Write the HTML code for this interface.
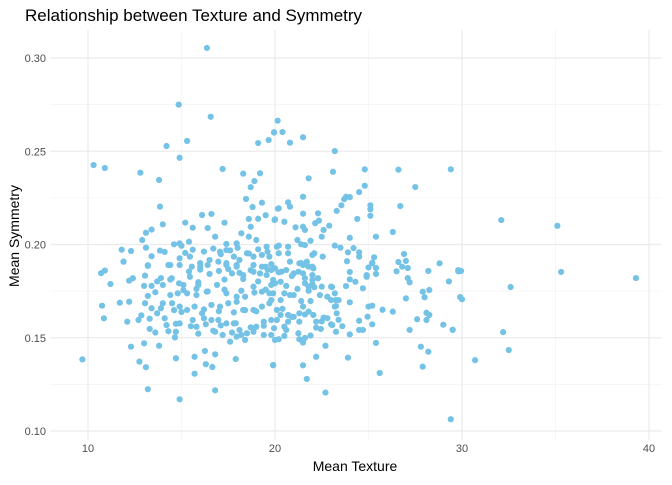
<!DOCTYPE html>
<html><head><meta charset="utf-8"><style>
body{margin:0;background:#fff;font-family:"Liberation Sans",sans-serif}
svg text{font-family:"Liberation Sans",sans-serif}
</style></head><body>
<svg id="chart" width="672" height="480">
<rect width="672" height="480" fill="#fff"/>
<g id="grid"></g>
<g id="points"></g>
<g id="axes"></g>
<text x="25" y="21" font-size="17" fill="#000">Relationship between Texture and Symmetry</text>
<text x="355" y="471" font-size="14" text-anchor="middle" fill="#000">Mean Texture</text>
<text transform="translate(19,236) rotate(-90)" font-size="14" text-anchor="middle" fill="#000">Mean Symmetry</text>
</svg>
<script>
const xTicks=[10,20,30,40];
const xMinor=[15,25,35];
const yTicks=[0.10,0.15,0.20,0.25,0.30];
const yMinor=[0.125,0.175,0.225,0.275];
const texture=[16.36,14.85,16.56,20.14,19.95,19.66,19.1,14.2,15.3,14.9,10.3,10.9,12.8,17.2,13.8,18.3,19.2,18.9,18.7,18.45,13.85,18.8,19.3,20.16,16.1,16.6,15.2,15.6,14.0,13.4,13.1,12.9,16.4,16.8,17.3,11.8,12.3,11.9,13.1,13.4,13.85,14.1,13.2,14.6,14.9,15.4,15.0,
9.7,12.3,13.0,13.8,12.75,13.1,13.2,14.9,16.8,15.7,14.7,16.3,16.65,16.8,17.9,19.9,15.7,16.25,14.65,10.75,10.85,11.7,12.2,12.1,13.3,11.2,10.7,10.9,12.2,12.4,11.9,13.2,13.05,13.0,13.4,13.2,13.6,13.05,13.4,12.7,12.85,13.3,13.9,14.0,
19.95,20.4,20.8,21.5,23.2,23.1,24.8,26.6,29.4,21.8,24.8,27.5,24.5,21.5,23.8,24.0,23.7,23.55,23.3,25.1,25.1,25.1,26.7,24.4,20.7,20.2,20.8,20.0,20.5,21.5,22.3,22.35,22.15,22.9,22.6,22.5,24.0,25.4,26.3,23.2,23.5,24.2,23.9,24.5,24.5,25.3,25.2,23.85,26.9,26.6,27.0,28.8,29.8,21.1,21.5,21.6,21.2,21.4,21.6,21.9,20.2,20.2,20.7,20.7,22.0,22.1,22.55,21.4,21.7,22.0,
29.8,29.3,30.0,27.9,28.25,28.0,27.0,28.2,26.8,27.1,27.1,27.2,26.5,28.1,28.25,28.1,27.6,27.2,29.0,29.5,27.8,28.2,27.9,29.4,25.6,25.4,23.9,22.7,22.2,21.5,21.7,22.7,19.9,26.3,25.75,25.2,24.95,25.0,25.2,24.5,24.5,24.7,24.0,24.0,24.7,24.3,24.0,23.8,24.0,24.9,24.9,25.4,25.0,25.4,25.2,23.05,23.2,23.25,23.2,23.3,23.06,23.26,
22.4,22.8,21.9,21.4,21.5,21.8,22.05,21.3,21.3,20.7,20.7,20.5,20.3,20.1,19.95,19.8,20.2,20.5,21.25,21.3,21.5,21.6,22.2,22.2,22.45,22.5,23.0,23.0,23.4,23.26,23.0,22.5,22.1,21.8,21.8,22.0,21.6,22.3,21.6,22.0,21.5,21.25,21.0,20.9,20.6,20.2,19.8,20.0,19.8,20.3,20.5,20.8,21.0,19.9,19.8,20.3,21.3,21.5,21.8,22.05,21.7,20.8,20.0,19.8,20.35,
14.48,14.87,15.1,15.45,15.9,14.3,14.9,15.55,16.0,16.4,16.97,17.4,17.7,17.95,18.3,18.85,19.3,19.55,19.9,19.7,19.3,18.85,18.4,17.95,17.4,16.9,16.35,15.8,15.3,14.8,14.4,14.0,14.5,14.9,15.3,15.7,16.1,16.6,17.06,17.5,17.95,18.3,18.85,19.3,19.7,20.1,19.8,19.4,19.0,18.85,18.4,17.95,17.6,17.2,16.8,16.6,16.97,17.4,17.8,16.2,15.8,15.6,14.9,14.7,13.9,14.1,13.7,20.0,19.4,18.5,18.1,
17.4,17.8,18.1,18.5,18.85,19.3,19.7,20.1,17.95,18.6,19.0,19.55,17.06,16.5,16.0,15.45,14.9,14.4,17.95,18.85,19.5,17.4,18.2,19.5,19.1,18.6,18.7,19.98,17.4,
32.1,35.1,35.3,39.3,32.6,29.95,32.2,32.5,30.7,29.9,29.5,
15.2,15.6,16.2,16.7,17.1,17.6,18.0,18.6,19.1,19.6,15.4,16.0,16.5,17.0,17.5,18.1,18.7,19.2,19.6,20.6,21.2,22.0,15.1,15.8,16.4,17.3,18.2,18.9,19.5,14.6,15.0,16.2,17.0,17.8,18.4,19.0,20.4,21.0,22.6,23.4,14.2,14.7,15.5,16.3,17.1,17.9,18.7,19.4,20.9,21.6,22.8,13.6,14.3,15.9,16.7,17.7,18.2,20.6,21.9,23.6,13.7,14.4,15.9,17.3,18.3,19.1];
const symmetry=[0.3054,0.275,0.2685,0.2664,0.260,0.256,0.2544,0.2528,0.2555,0.2465,0.2426,0.241,0.2385,0.2405,0.2346,0.238,0.2382,0.234,0.2307,0.2244,0.2203,0.2201,0.2224,0.2192,0.2158,0.2164,0.2117,0.209,0.2108,0.208,0.2063,0.2024,0.2088,0.2042,0.2117,0.1972,0.1965,0.1908,0.1983,0.1937,0.1967,0.196,0.1889,0.2001,0.2006,0.2015,0.1993,
0.1384,0.1452,0.147,0.1457,0.1372,0.1342,0.1224,0.117,0.1218,0.1307,0.139,0.1358,0.1343,0.1411,0.1386,0.1352,0.1398,0.1429,0.1502,0.1672,0.1604,0.1688,0.1693,0.1586,0.1547,0.1788,0.1846,0.186,0.1806,0.1819,0.1908,0.1885,0.1833,0.1778,0.1778,0.1724,0.1744,0.1685,0.1658,0.1595,0.162,0.1602,0.182,0.1783,
0.2602,0.2603,0.2546,0.2575,0.2501,0.239,0.2403,0.2401,0.2403,0.2355,0.2315,0.2308,0.2281,0.2256,0.2256,0.2254,0.2243,0.221,0.218,0.221,0.2189,0.2154,0.2206,0.2137,0.2226,0.2194,0.2203,0.2135,0.2122,0.2165,0.2167,0.2128,0.2114,0.2101,0.2078,0.2042,0.2036,0.2042,0.2067,0.1994,0.1983,0.1981,0.1958,0.1958,0.1935,0.1931,0.1899,0.191,0.1949,0.1906,0.1912,0.1899,0.1863,0.2092,0.2095,0.2078,0.2024,0.2001,0.1997,0.202,0.1994,0.1953,0.1988,0.1953,0.1944,0.1953,0.1935,0.19,0.189,0.1881,
0.1856,0.1802,0.1706,0.1747,0.1756,0.1717,0.1711,0.1858,0.1881,0.1874,0.182,0.1797,0.1856,0.1634,0.1622,0.1595,0.1599,0.1542,0.157,0.1543,0.1452,0.1425,0.1345,0.1063,0.1311,0.1472,0.1393,0.1457,0.1398,0.1352,0.1279,0.1206,0.1354,0.164,0.165,0.1572,0.1613,0.1667,0.1672,0.1591,0.1542,0.1542,0.1518,0.169,0.1765,0.18,0.1813,0.1777,0.1853,0.1827,0.1836,0.1842,0.1877,0.1874,0.1902,0.1772,0.1738,0.1702,0.1667,0.1631,0.1568,0.1532,
0.1729,0.172,0.1697,0.1697,0.1667,0.164,0.1622,0.1631,0.1586,0.1622,0.1586,0.1559,0.1622,0.1595,0.1551,0.1515,0.1492,0.151,0.1524,0.1492,0.1474,0.1499,0.1586,0.1554,0.1547,0.1588,0.1572,0.1702,0.1702,0.167,0.1774,0.1774,0.1771,0.1774,0.1752,0.181,0.1819,0.1819,0.1792,0.1836,0.1845,0.1854,0.1845,0.1831,0.1863,0.1851,0.1863,0.1792,0.1783,0.18,0.1738,0.1729,0.1729,0.1738,0.1702,0.1702,0.1899,0.189,0.1881,0.1872,0.1908,0.1908,0.1872,0.1895,0.1854,
0.1819,0.1792,0.1783,0.1827,0.1783,0.189,0.189,0.1881,0.1881,0.189,0.1908,0.189,0.1845,0.1881,0.1836,0.1854,0.1881,0.1836,0.181,0.1738,0.1747,0.1774,0.172,0.172,0.1738,0.1783,0.1747,0.1729,0.1738,0.1738,0.1729,0.1685,0.1685,0.1667,0.1649,0.1667,0.1631,0.1676,0.1667,0.1685,0.1693,0.1649,0.1649,0.1667,0.1685,0.1649,0.1595,0.1586,0.1559,0.1532,0.1488,0.1506,0.1479,0.1515,0.1532,0.1595,0.1595,0.1577,0.1577,0.1604,0.1559,0.1595,0.1577,0.1532,0.1658,0.1604,0.1631,0.1488,0.1515,0.1524,0.1542,
0.197,0.1935,0.1917,0.1953,0.1935,0.1944,0.1935,0.1988,0.2006,0.2042,0.2024,0.1988,0.1961,0.1917,0.19,0.1935,0.1926,0.189,0.189,0.189,0.1881,0.19,0.206,0.2157,0.2138,0.2137,0.2095,0.2131,0.2003,
0.2131,0.21,0.1853,0.182,0.1772,0.1858,0.153,0.1434,0.138,0.1718,0.1542,
0.1955,0.1972,0.1962,0.1978,0.1948,0.1968,0.1982,0.1952,0.1974,0.1962,0.1855,0.1865,0.1842,0.1858,0.1868,0.1848,0.1862,0.1845,0.1866,0.1778,0.1762,0.1788,0.1755,0.1762,0.1748,0.1758,0.1752,0.1742,0.1758,0.1648,0.1638,0.1652,0.1642,0.1636,0.1648,0.1642,0.1655,0.1612,0.1608,0.1596,0.1568,0.1575,0.1562,0.1572,0.1566,0.1578,0.1556,0.1564,0.1612,0.1625,0.1605,0.1528,0.1535,0.1522,0.1538,0.1528,0.1515,0.1542,0.1512,0.1562,0.1802,0.1812,0.1798,0.1812,0.1815,0.1802];

const NS='http://www.w3.org/2000/svg';
const L=50,R=662,T=30,B=440;
function xs(v){return 88+(v-10)*18.7;}
function ys(v){return 431-(v-0.10)*1865;}
const grid=document.getElementById('grid'),axes=document.getElementById('axes'),pts=document.getElementById('points');
function line(x1,y1,x2,y2,c,w,name){const l=document.createElementNS(NS,'line');l.setAttribute('x1',x1);l.setAttribute('y1',y1);l.setAttribute('x2',x2);l.setAttribute('y2',y2);l.setAttribute('stroke',c);l.setAttribute('stroke-width',w);


grid.appendChild(l);}
xMinor.forEach(v=>line(xs(v),T,xs(v),B,'#f4f4f4',0.8,'x-minor-gridline'));
yMinor.forEach(v=>line(L,ys(v),R,ys(v),'#f4f4f4',0.8,'y-minor-gridline'));
xTicks.forEach(v=>line(xs(v),T,xs(v),B,'#ebebeb',1.2,'x-major-gridline'));
yTicks.forEach(v=>line(L,ys(v),R,ys(v),'#ebebeb',1.2,'y-major-gridline'));
function txt(x,y,s,anchor,name){const t=document.createElementNS(NS,'text');t.setAttribute('x',x);t.setAttribute('y',y);t.setAttribute('font-size','11');t.setAttribute('fill','#4d4d4d');t.setAttribute('text-anchor',anchor);t.textContent=s;


axes.appendChild(t);}
xTicks.forEach(v=>txt(xs(v),452,String(v),'middle','x-tick-label'));
yTicks.forEach(v=>txt(46,ys(v)+4,v.toFixed(2),'end','y-tick-label'));
for(let i=0;i<Math.min(texture.length,symmetry.length);i++){
const c=document.createElementNS(NS,'circle');
c.setAttribute('cx',xs(texture[i]));c.setAttribute('cy',ys(symmetry[i]));c.setAttribute('r','3.1');c.setAttribute('fill','#74c2e6');


pts.appendChild(c);}
</script>
</body></html>
